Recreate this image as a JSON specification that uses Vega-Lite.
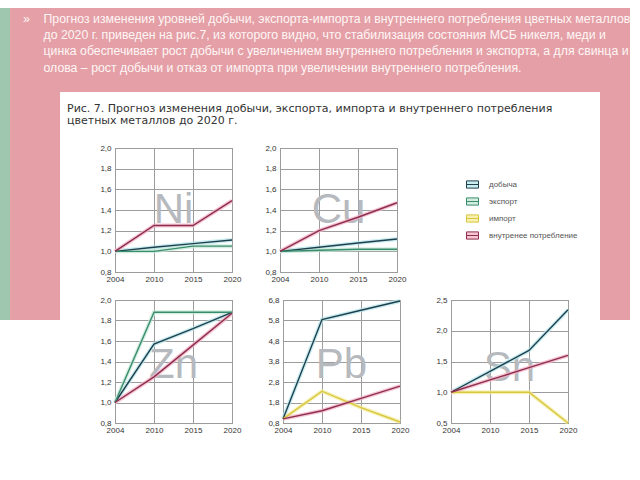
{
  "$schema": "https://vega.github.io/schema/vega-lite/v6.json",
  "background": "#ffffff",
  "padding": {"left": 0, "top": 8, "right": 10, "bottom": 0},
  "config": {
    "font": "Liberation Sans",
    "view": {"stroke": "#8f8f8f", "strokeWidth": 1},
    "axis": {"grid": true, "gridColor": "#9c9c9c", "gridWidth": 1, "domain": false, "ticks": false, "tickSize": 0, "labelFontSize": 8, "labelColor": "#333333", "labelPadding": 4, "labelFont": "Liberation Sans", "labelOverlap": false},
    "legend": {"labelFont": "Liberation Sans"}
  },
  "datasets": {
    "d": [
      {"metal": "Ni", "series": "добыча", "year": "2004", "value": 1.0},
      {"metal": "Ni", "series": "добыча", "year": "2010", "value": 1.04},
      {"metal": "Ni", "series": "добыча", "year": "2015", "value": 1.075},
      {"metal": "Ni", "series": "добыча", "year": "2020", "value": 1.11},
      {"metal": "Ni", "series": "экспорт", "year": "2004", "value": 1.0},
      {"metal": "Ni", "series": "экспорт", "year": "2010", "value": 1.0},
      {"metal": "Ni", "series": "экспорт", "year": "2015", "value": 1.05},
      {"metal": "Ni", "series": "экспорт", "year": "2020", "value": 1.05},
      {"metal": "Ni", "series": "внутренее потребление", "year": "2004", "value": 1.0},
      {"metal": "Ni", "series": "внутренее потребление", "year": "2010", "value": 1.25},
      {"metal": "Ni", "series": "внутренее потребление", "year": "2015", "value": 1.25},
      {"metal": "Ni", "series": "внутренее потребление", "year": "2020", "value": 1.49},
      {"metal": "Cu", "series": "добыча", "year": "2004", "value": 1.0},
      {"metal": "Cu", "series": "добыча", "year": "2010", "value": 1.04},
      {"metal": "Cu", "series": "добыча", "year": "2015", "value": 1.08},
      {"metal": "Cu", "series": "добыча", "year": "2020", "value": 1.12},
      {"metal": "Cu", "series": "экспорт", "year": "2004", "value": 1.0},
      {"metal": "Cu", "series": "экспорт", "year": "2010", "value": 1.01},
      {"metal": "Cu", "series": "экспорт", "year": "2015", "value": 1.02},
      {"metal": "Cu", "series": "экспорт", "year": "2020", "value": 1.02},
      {"metal": "Cu", "series": "внутренее потребление", "year": "2004", "value": 1.0},
      {"metal": "Cu", "series": "внутренее потребление", "year": "2010", "value": 1.2},
      {"metal": "Cu", "series": "внутренее потребление", "year": "2015", "value": 1.33},
      {"metal": "Cu", "series": "внутренее потребление", "year": "2020", "value": 1.47},
      {"metal": "Zn", "series": "добыча", "year": "2004", "value": 1.0},
      {"metal": "Zn", "series": "добыча", "year": "2010", "value": 1.57},
      {"metal": "Zn", "series": "добыча", "year": "2015", "value": 1.72},
      {"metal": "Zn", "series": "добыча", "year": "2020", "value": 1.88},
      {"metal": "Zn", "series": "экспорт", "year": "2004", "value": 1.0},
      {"metal": "Zn", "series": "экспорт", "year": "2010", "value": 1.88},
      {"metal": "Zn", "series": "экспорт", "year": "2015", "value": 1.88},
      {"metal": "Zn", "series": "экспорт", "year": "2020", "value": 1.88},
      {"metal": "Zn", "series": "внутренее потребление", "year": "2004", "value": 1.0},
      {"metal": "Zn", "series": "внутренее потребление", "year": "2010", "value": 1.25},
      {"metal": "Zn", "series": "внутренее потребление", "year": "2015", "value": 1.56},
      {"metal": "Zn", "series": "внутренее потребление", "year": "2020", "value": 1.87},
      {"metal": "Pb", "series": "добыча", "year": "2004", "value": 1.0},
      {"metal": "Pb", "series": "добыча", "year": "2010", "value": 5.85},
      {"metal": "Pb", "series": "добыча", "year": "2015", "value": 6.3},
      {"metal": "Pb", "series": "добыча", "year": "2020", "value": 6.75},
      {"metal": "Pb", "series": "импорт", "year": "2004", "value": 1.0},
      {"metal": "Pb", "series": "импорт", "year": "2010", "value": 2.35},
      {"metal": "Pb", "series": "импорт", "year": "2015", "value": 1.55},
      {"metal": "Pb", "series": "импорт", "year": "2020", "value": 0.85},
      {"metal": "Pb", "series": "внутренее потребление", "year": "2004", "value": 1.0},
      {"metal": "Pb", "series": "внутренее потребление", "year": "2010", "value": 1.4},
      {"metal": "Pb", "series": "внутренее потребление", "year": "2015", "value": 2.0},
      {"metal": "Pb", "series": "внутренее потребление", "year": "2020", "value": 2.6},
      {"metal": "Sn", "series": "добыча", "year": "2004", "value": 1.0},
      {"metal": "Sn", "series": "добыча", "year": "2010", "value": 1.34},
      {"metal": "Sn", "series": "добыча", "year": "2015", "value": 1.68},
      {"metal": "Sn", "series": "добыча", "year": "2020", "value": 2.34},
      {"metal": "Sn", "series": "импорт", "year": "2004", "value": 1.0},
      {"metal": "Sn", "series": "импорт", "year": "2010", "value": 1.0},
      {"metal": "Sn", "series": "импорт", "year": "2015", "value": 1.0},
      {"metal": "Sn", "series": "импорт", "year": "2020", "value": 0.5},
      {"metal": "Sn", "series": "внутренее потребление", "year": "2004", "value": 1.0},
      {"metal": "Sn", "series": "внутренее потребление", "year": "2010", "value": 1.2},
      {"metal": "Sn", "series": "внутренее потребление", "year": "2015", "value": 1.4},
      {"metal": "Sn", "series": "внутренее потребление", "year": "2020", "value": 1.6}
    ]
  },
  "resolve": {"legend": {"color": "independent"}},
  "spacing": 0,
  "hconcat": [
    {"width": 10, "height": 312, "data": {"values": []}, "mark": "point", "view": {"fill": "#9fc6ae", "stroke": null}},
    {
      "spacing": 0,
      "resolve": {"legend": {"color": "independent"}},
      "vconcat": [
        {
          "width": 620, "height": 84, "data": {"values": []}, "mark": "point",
          "view": {"fill": "#e4a0a6", "stroke": null},
          "title": {
            "text": [
              "»\u00a0\u00a0\u00a0\u00a0Прогноз изменения уровней добычи, экспорта-импорта и внутреннего потребления цветных металлов",
              "\u200b\u00a0\u00a0\u00a0\u00a0\u00a0\u00a0до 2020 г. приведен на рис.7, из которого видно, что стабилизация состояния МСБ никеля, меди и",
              "\u200b\u00a0\u00a0\u00a0\u00a0\u00a0\u00a0цинка обеспечивает рост добычи с увеличением внутреннего потребления и экспорта, а для свинца и",
              "\u200b\u00a0\u00a0\u00a0\u00a0\u00a0\u00a0олова – рост добычи и отказ от импорта при увеличении внутреннего потребления."
            ],
            "anchor": "start", "orient": "top", "offset": -66, "dx": 13, "limit": 1000,
            "font": "Liberation Sans", "fontSize": 12.3, "fontWeight": "normal", "color": "#fff6f6", "lineHeight": 16.3
          }
        },
        {
          "spacing": 7,
          "resolve": {"legend": {"color": "independent"}},
          "hconcat": [
            {"width": 50, "height": 228, "data": {"values": []}, "mark": "point", "view": {"fill": "#e4a0a6", "stroke": null}},
            {
              "spacing": 8,
              "resolve": {"legend": {"color": "independent"}},
              "vconcat": [
                {
                  "width": 10, "height": 43, "data": {"values": []}, "mark": "point", "view": {"stroke": null, "fill": null},
                  "title": {
                    "text": ["Рис. 7. Прогноз изменения добычи, экспорта, импорта и внутреннего потребления", "цветных металлов до 2020 г."],
                    "anchor": "start", "orient": "top", "font": "DejaVu Sans", "fontSize": 11, "fontWeight": "normal", "color": "#333333", "lineHeight": 12, "offset": -34, "dx": -48, "limit": 1000
                  }
                },
                {
                  "spacing": 22,
                  "resolve": {"legend": {"color": "independent"}},
                  "hconcat": [
                    {
                      "width": 117, "height": 124,
                      "layer": [
                        {"data": {"values": [{"label": "Ni"}]}, "mark": {"type": "text", "fontSize": 42, "color": "#b6b9bd", "align": "center", "baseline": "middle", "dx": 19.5},
                          "encoding": {"text": {"field": "label"},
                            "x": {"datum": "2010", "type": "ordinal", "title": null, "scale": {"type": "point", "padding": 0, "domain": ["2004", "2010", "2015", "2020"]}, "axis": {"labelAngle": 0, "ticks": false, "labelPadding": 3}},
                            "y": {"datum": 1.4, "type": "quantitative", "title": null, "scale": {"domain": [0.8, 2.0], "nice": false, "zero": false}, "axis": {"values": [0.8, 1.0, 1.2, 1.4, 1.6, 1.8, 2.0], "tickCount": 12, "ticks": false, "labelExpr": "replace(format(datum.value, '.1f'), '.', ',')"}}}},
                        {"data": {"name": "d"}, "transform": [{"filter": "datum.metal === 'Ni'"}], "mark": {"type": "line", "strokeWidth": 4, "strokeOpacity": 0.75},
                          "encoding": {
                            "x": {"field": "year", "type": "ordinal", "title": null},
                            "y": {"field": "value", "type": "quantitative", "title": null},
                            "stroke": {"field": "series", "type": "nominal", "scale": {"domain": ["добыча", "экспорт", "импорт", "внутренее потребление"], "range": ["#b6e6ea", "#c4e8d6", "#f3ec9c", "#f1b3c6"]}, "legend": null}}},
                        {"data": {"name": "d"}, "transform": [{"filter": "datum.metal === 'Ni'"}], "mark": {"type": "line", "strokeWidth": 1.4},
                          "encoding": {
                            "x": {"field": "year", "type": "ordinal", "title": null},
                            "y": {"field": "value", "type": "quantitative", "title": null},
                            "color": {"field": "series", "type": "nominal", "scale": {"domain": ["добыча", "экспорт", "импорт", "внутренее потребление"], "range": ["#1f3f4e", "#3a8c6f", "#d8c640", "#8e2d4e"]}, "legend": null}}}
                      ]
                    },
                    {
                      "width": 117, "height": 124,
                      "layer": [
                        {"data": {"values": [{"label": "Cu"}]}, "mark": {"type": "text", "fontSize": 42, "color": "#b6b9bd", "align": "center", "baseline": "middle", "dx": 19.5},
                          "encoding": {"text": {"field": "label"},
                            "x": {"datum": "2010", "type": "ordinal", "title": null, "scale": {"type": "point", "padding": 0, "domain": ["2004", "2010", "2015", "2020"]}, "axis": {"labelAngle": 0, "ticks": false, "labelPadding": 3}},
                            "y": {"datum": 1.4, "type": "quantitative", "title": null, "scale": {"domain": [0.8, 2.0], "nice": false, "zero": false}, "axis": {"values": [0.8, 1.0, 1.2, 1.4, 1.6, 1.8, 2.0], "tickCount": 12, "ticks": false, "labelExpr": "replace(format(datum.value, '.1f'), '.', ',')"}}}},
                        {"data": {"name": "d"}, "transform": [{"filter": "datum.metal === 'Cu'"}], "mark": {"type": "line", "strokeWidth": 4, "strokeOpacity": 0.75},
                          "encoding": {
                            "x": {"field": "year", "type": "ordinal", "title": null},
                            "y": {"field": "value", "type": "quantitative", "title": null},
                            "stroke": {"field": "series", "type": "nominal", "scale": {"domain": ["добыча", "экспорт", "импорт", "внутренее потребление"], "range": ["#b6e6ea", "#c4e8d6", "#f3ec9c", "#f1b3c6"]}, "legend": null}}},
                        {"data": {"name": "d"}, "transform": [{"filter": "datum.metal === 'Cu'"}], "mark": {"type": "line", "strokeWidth": 1.4},
                          "encoding": {
                            "x": {"field": "year", "type": "ordinal", "title": null},
                            "y": {"field": "value", "type": "quantitative", "title": null},
                            "color": {"field": "series", "type": "nominal", "scale": {"domain": ["добыча", "экспорт", "импорт", "внутренее потребление"], "range": ["#1f3f4e", "#3a8c6f", "#d8c640", "#8e2d4e"]},
                              "legend": {
                                "orient": "none", "legendX": 172, "legendY": 16, "padding": 14, "title": null,
                                "symbolType": "M-1,-0.6H1V0.6H-1ZM-1,0H1", "symbolSize": 144, "symbolStrokeWidth": 1,
                                "labelFontSize": 8, "labelColor": "#555555", "labelOffset": 10, "rowPadding": 4,
                                "encode": {"symbols": {"update": {"fill": {"signal": "datum.value === 'добыча' ? '#c9ecef' : datum.value === 'экспорт' ? '#d3ecde' : datum.value === 'импорт' ? '#f7f0b0' : '#f5c6d2'"}, "opacity": {"value": 1}}}}
                              }}}}
                      ]
                    }
                  ]
                },
                {
                  "spacing": 25,
                  "resolve": {"legend": {"color": "independent"}},
                  "hconcat": [
                    {
                      "width": 117, "height": 123,
                      "layer": [
                        {"data": {"values": [{"label": "Zn"}]}, "mark": {"type": "text", "fontSize": 42, "color": "#b6b9bd", "align": "center", "baseline": "middle", "dx": 19.5},
                          "encoding": {"text": {"field": "label"},
                            "x": {"datum": "2010", "type": "ordinal", "title": null, "scale": {"type": "point", "padding": 0, "domain": ["2004", "2010", "2015", "2020"]}, "axis": {"labelAngle": 0, "ticks": false, "labelPadding": 3}},
                            "y": {"datum": 1.37, "type": "quantitative", "title": null, "scale": {"domain": [0.8, 2.0], "nice": false, "zero": false}, "axis": {"values": [0.8, 1.0, 1.2, 1.4, 1.6, 1.8, 2.0], "tickCount": 12, "ticks": false, "labelExpr": "replace(format(datum.value, '.1f'), '.', ',')"}}}},
                        {"data": {"name": "d"}, "transform": [{"filter": "datum.metal === 'Zn'"}], "mark": {"type": "line", "strokeWidth": 4, "strokeOpacity": 0.75},
                          "encoding": {
                            "x": {"field": "year", "type": "ordinal", "title": null},
                            "y": {"field": "value", "type": "quantitative", "title": null},
                            "stroke": {"field": "series", "type": "nominal", "scale": {"domain": ["добыча", "экспорт", "импорт", "внутренее потребление"], "range": ["#b6e6ea", "#c4e8d6", "#f3ec9c", "#f1b3c6"]}, "legend": null}}},
                        {"data": {"name": "d"}, "transform": [{"filter": "datum.metal === 'Zn'"}], "mark": {"type": "line", "strokeWidth": 1.4},
                          "encoding": {
                            "x": {"field": "year", "type": "ordinal", "title": null},
                            "y": {"field": "value", "type": "quantitative", "title": null},
                            "color": {"field": "series", "type": "nominal", "scale": {"domain": ["добыча", "экспорт", "импорт", "внутренее потребление"], "range": ["#1f3f4e", "#3a8c6f", "#d8c640", "#8e2d4e"]}, "legend": null}}}
                      ]
                    },
                    {
                      "width": 117, "height": 123,
                      "layer": [
                        {"data": {"values": [{"label": "Pb"}]}, "mark": {"type": "text", "fontSize": 42, "color": "#b6b9bd", "align": "center", "baseline": "middle", "dx": 19.5},
                          "encoding": {"text": {"field": "label"},
                            "x": {"datum": "2010", "type": "ordinal", "title": null, "scale": {"type": "point", "padding": 0, "domain": ["2004", "2010", "2015", "2020"]}, "axis": {"labelAngle": 0, "ticks": false, "labelPadding": 3}},
                            "y": {"datum": 3.65, "type": "quantitative", "title": null, "scale": {"domain": [0.8, 6.8], "nice": false, "zero": false}, "axis": {"values": [0.8, 1.8, 2.8, 3.8, 4.8, 5.8, 6.8], "tickCount": 12, "ticks": false, "labelExpr": "replace(format(datum.value, '.1f'), '.', ',')"}}}},
                        {"data": {"name": "d"}, "transform": [{"filter": "datum.metal === 'Pb'"}], "mark": {"type": "line", "strokeWidth": 4, "strokeOpacity": 0.75},
                          "encoding": {
                            "x": {"field": "year", "type": "ordinal", "title": null},
                            "y": {"field": "value", "type": "quantitative", "title": null},
                            "stroke": {"field": "series", "type": "nominal", "scale": {"domain": ["добыча", "экспорт", "импорт", "внутренее потребление"], "range": ["#b6e6ea", "#c4e8d6", "#f3ec9c", "#f1b3c6"]}, "legend": null}}},
                        {"data": {"name": "d"}, "transform": [{"filter": "datum.metal === 'Pb'"}], "mark": {"type": "line", "strokeWidth": 1.4},
                          "encoding": {
                            "x": {"field": "year", "type": "ordinal", "title": null},
                            "y": {"field": "value", "type": "quantitative", "title": null},
                            "color": {"field": "series", "type": "nominal", "scale": {"domain": ["добыча", "экспорт", "импорт", "внутренее потребление"], "range": ["#1f3f4e", "#3a8c6f", "#d8c640", "#8e2d4e"]}, "legend": null}}}
                      ]
                    },
                    {
                      "width": 117, "height": 123,
                      "layer": [
                        {"data": {"values": [{"label": "Sn"}]}, "mark": {"type": "text", "fontSize": 42, "color": "#b6b9bd", "align": "center", "baseline": "middle", "dx": 19.5},
                          "encoding": {"text": {"field": "label"},
                            "x": {"datum": "2010", "type": "ordinal", "title": null, "scale": {"type": "point", "padding": 0, "domain": ["2004", "2010", "2015", "2020"]}, "axis": {"labelAngle": 0, "ticks": false, "labelPadding": 3}},
                            "y": {"datum": 1.4, "type": "quantitative", "title": null, "scale": {"domain": [0.5, 2.5], "nice": false, "zero": false}, "axis": {"values": [0.5, 1.0, 1.5, 2.0, 2.5], "tickCount": 12, "ticks": false, "labelExpr": "replace(format(datum.value, '.1f'), '.', ',')"}}}},
                        {"data": {"name": "d"}, "transform": [{"filter": "datum.metal === 'Sn'"}], "mark": {"type": "line", "strokeWidth": 4, "strokeOpacity": 0.75},
                          "encoding": {
                            "x": {"field": "year", "type": "ordinal", "title": null},
                            "y": {"field": "value", "type": "quantitative", "title": null},
                            "stroke": {"field": "series", "type": "nominal", "scale": {"domain": ["добыча", "экспорт", "импорт", "внутренее потребление"], "range": ["#b6e6ea", "#c4e8d6", "#f3ec9c", "#f1b3c6"]}, "legend": null}}},
                        {"data": {"name": "d"}, "transform": [{"filter": "datum.metal === 'Sn'"}], "mark": {"type": "line", "strokeWidth": 1.4},
                          "encoding": {
                            "x": {"field": "year", "type": "ordinal", "title": null},
                            "y": {"field": "value", "type": "quantitative", "title": null},
                            "color": {"field": "series", "type": "nominal", "scale": {"domain": ["добыча", "экспорт", "импорт", "внутренее потребление"], "range": ["#1f3f4e", "#3a8c6f", "#d8c640", "#8e2d4e"]}, "legend": null}}}
                      ]
                    }
                  ]
                }
              ]
            },
            {"width": 30, "height": 228, "data": {"values": []}, "mark": "point", "view": {"fill": "#e4a0a6", "stroke": null}}
          ]
        }
      ]
    }
  ]
}
